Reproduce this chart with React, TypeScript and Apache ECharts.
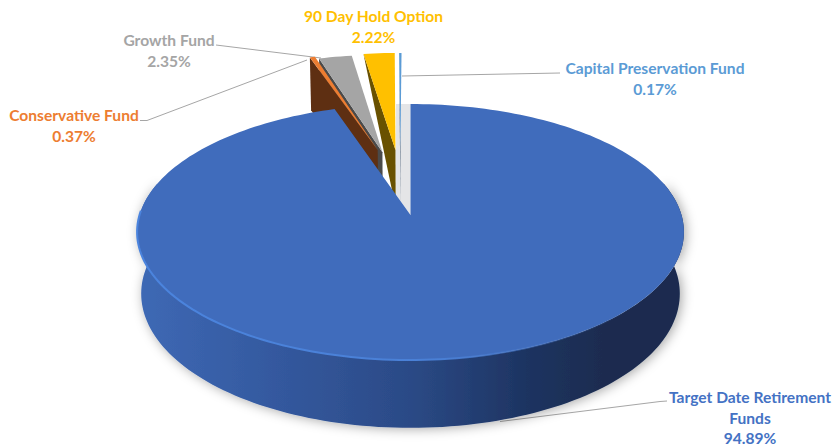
import React, { useEffect, useRef } from "react";
import * as echarts from "echarts";

const sliceNames = ["Target Date Retirement Funds", "Conservative Fund", "Growth Fund", "90 Day Hold Option", "Capital Preservation Fund"];
const sliceLabelNames = ["Target Date Retirement\nFunds", "Conservative Fund", "Growth Fund", "90 Day Hold Option", "Capital Preservation Fund"];
const sliceValues = [94.89, 0.37, 2.35, 2.22, 0.17];
const topColors = ["#406cbc", "#ed7d31", "#a5a5a5", "#ffc000", "#5b9bd5"];
const wallColors = ["#2a4a84", "#5e2f12", "#4a4a4a", "#695100", "#27405f"];
const textColors = ["#4472c4", "#ed7d31", "#a5a5a5", "#ffc000", "#5b9bd5"];
// drawing order: back to front
const drawOrder = [4, 3, 2, 1, 0];
// explosion of each slice on the pie's plane, as a share of the radius
const explodeU = [0, -0.13, -0.111, -0.0595, -0.04];
const explodeV = [0, -0.555, -0.535, -0.555, -0.555];
// how far down the back corner of the cut wall reaches
const wallBack = [0, 1, 1, 0, 0];
const labelCenters = [[750, 417.5], [74, 125.5], [169, 50.5], [373.5, 26.5], [655, 78.5]];
const leaderLines = [
  [[667, 401], [660, 401.5], [500, 421.5]],
  [[140, 120.5], [147, 120.5], [307, 60]],
  [[216, 45], [321, 58]],
  [],
  [[402, 76], [560, 73]],
];

const CX = 410.5, CY = 215, R = 271, RB = 125.75, K = 0.1329, M = 0.015, DEPTH = 62;

const project = (u: number, v: number, z: number): number[] => {
  const s = 1 / (1 - K * v + M * z);
  return [CX + R * u * s, CY + RB * v * s + DEPTH * z * s];
};
const total = sliceValues.reduce((a, b) => a + b, 0);
const startAngles = sliceValues.map((_, i) => (sliceValues.slice(0, i).reduce((a, b) => a + b, 0) / total) * 360);
const rim = (deg: number, du: number, dv: number, z: number) => {
  const t = (deg * Math.PI) / 180;
  return project(Math.sin(t) + du, -Math.cos(t) + dv, z);
};
const arc = (a0: number, a1: number, du: number, dv: number, z: number) => {
  const n = Math.max(2, Math.ceil(Math.abs(a1 - a0) / 1.5));
  const out: number[][] = [];
  for (let i = 0; i <= n; i++) out.push(rim(a0 + ((a1 - a0) * i) / n, du, dv, z));
  return out;
};

const renderItem = (params: any, api: any) => {
  const i = drawOrder[params.dataIndex];
  const value = api.value(0);
  const a0 = startAngles[i];
  const a1 = a0 + (value / total) * 360;
  const du = explodeU[i], dv = explodeV[i];
  const apex = project(du, dv, 0);
  const apexLow = project(du, dv, 1);
  const children: any[] = [];
  if (i === 0) {
    const upper = arc(75, 285, 0, 0, 0);
    const lower = arc(285, 75, 0, 0, 1);
    children.push({
      type: "polygon",
      shape: { points: upper.concat(lower) },
      style: {
        shadowBlur: 12,
        shadowColor: "rgba(0,0,0,0.35)",
        shadowOffsetX: 2,
        shadowOffsetY: 1,
        fill: new echarts.graphic.LinearGradient(137, 0, 684, 0, [
          { offset: 0, color: "#3e69b5" },
          { offset: 0.25, color: "#34599f" },
          { offset: 0.5, color: "#2b4a86" },
          { offset: 0.72, color: "#1d3360" },
          { offset: 0.85, color: "#1a2c50" },
          { offset: 1, color: "#1a2c50" },
        ], true as any),
      },
    });
  } else {
    const back = rim(a0, du, dv, 0);
    const backLow = rim(a0, du, dv, wallBack[i]);
    children.push({
      type: "polygon",
      shape: { points: [back, apex, apexLow, backLow] },
      style: { fill: wallColors[i] },
    });
  }
  children.push({
    type: "polygon",
    shape: { points: [apex].concat(arc(a0, a1, du, dv, 0)) },
    style: { fill: topColors[i] },
  });
  if (i === 0) {
    children.push({
      type: "polyline",
      shape: { points: arc(125, 272, 0, 0, 0) },
      style: {
        fill: "none",
        lineWidth: 2,
        stroke: new echarts.graphic.LinearGradient(137, 0, 640, 0, [
          { offset: 0, color: "#4b84de" },
          { offset: 0.6, color: "#4a80d6" },
          { offset: 1, color: "rgba(64,108,188,0)" },
        ], true as any),
      },
    });
  }
  return { type: "group", children };
};

export default function App() {
  const ref = useRef<HTMLDivElement>(null);
  useEffect(() => {
    document.body.style.margin = "0";
    const chart = echarts.init(ref.current!, undefined, { renderer: "svg" });
    const notchApex = project(0, 0, 0);
    const notchTop = rim(0, 0, 0, 0);
    const notchLeft = 396;
    const mainEnd = rim(startAngles[1], 0, 0, 0);
    const notchLowY = notchApex[1] + ((notchLeft - notchApex[0]) * (mainEnd[1] - notchApex[1])) / (mainEnd[0] - notchApex[0]);
    chart.setOption({
      animation: false,
      backgroundColor: "#ffffff",
      series: [
        {
          type: "custom",
          coordinateSystem: "none",
          silent: true,
          z: 5,
          renderItem,
          data: drawOrder.map((i) => ({ name: sliceNames[i], value: [sliceValues[i]] })),
        },
      ],
      graphic: [
        {
          type: "polygon",
          z: 1,
          silent: true,
          shape: { points: [notchApex, notchTop, [notchLeft, notchTop[1]], [notchLeft, notchLowY]] },
          style: { fill: "#e4e5e7" },
        },
        ...leaderLines.filter((l) => l.length).map((points) => ({
          type: "polyline",
          z: 1,
          silent: true,
          shape: { points },
          style: { stroke: "#a6a6a6", lineWidth: 1, fill: "none" },
        })),
        ...sliceLabelNames.map((name, i) => ({
          type: "text",
          z: 10,
          silent: true,
          style: {
            text: `${name}\n${sliceValues[i].toFixed(2)}%`,
            x: labelCenters[i][0],
            y: labelCenters[i][1],
            fill: textColors[i],
            font: 'bold 15.6px Lato, "Open Sans", sans-serif',
            lineHeight: 20.5,
            textAlign: "center",
            textVerticalAlign: "middle",
          },
        })),
      ],
    });
    return () => chart.dispose();
  }, []);
  return <div ref={ref} style={{ width: 833, height: 446 }} />;
}
